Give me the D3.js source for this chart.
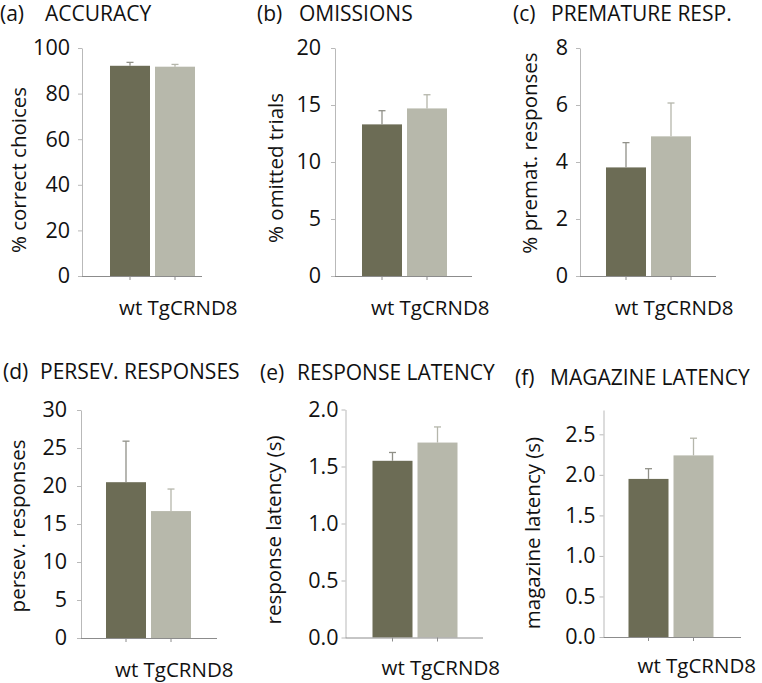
<!DOCTYPE html>
<html>
<head>
<meta charset="utf-8">
<script src="https://cdn.jsdelivr.net/npm/d3@7"></script>
<style>
  body { margin: 0; background: #fff; }
  text { font-family: "Open Sans", "Noto Sans", sans-serif; fill: #111; }
</style>
</head>
<body>
<script>
(function () {

    //chart values
    var groups = ["wt", "TgCRND8"];
    var panelTags = ["(a)", "(b)", "(c)", "(d)", "(e)", "(f)"];
    var panelTitles = ["ACCURACY", "OMISSIONS", "PREMATURE RESP.", "PERSEV. RESPONSES", "RESPONSE LATENCY", "MAGAZINE LATENCY"];
    var yLabels = ["% correct choices", "% omitted trials", "% premat. responses", "persev. responses", "response latency (s)", "magazine latency (s)"];
    var yMax = [100, 20, 8, 30, 2, 2.8];
    var yTicks = [
        [0, 20, 40, 60, 80, 100],
        [0, 5, 10, 15, 20],
        [0, 2, 4, 6, 8],
        [0, 5, 10, 15, 20, 25, 30],
        [0, 0.5, 1, 1.5, 2],
        [0, 0.5, 1, 1.5, 2, 2.5]
    ];
    var tickFormats = ["d", "d", "d", "d", ".1f", ".1f"];
    var wtMean = [92.2, 13.3, 3.81, 20.5, 1.55, 1.95];
    var tgMean = [91.8, 14.7, 4.90, 16.7, 1.71, 2.24];
    var wtErr = [1.5, 1.2, 0.87, 5.4, 0.073, 0.126];
    var tgErr = [1.0, 1.2, 1.17, 2.9, 0.137, 0.212];

    //layout of each panel (pixel positions)
    var layout = [
        {ax: 82,    top: 48,    bottom: 276,   right: 202, bar0: 28, tagX: 0,   titleX: 45,  titleY: 21,  xlabY: 315, ylabX: 19,  ylabY: 170, pad: 12},
        {ax: 335,   top: 48,    bottom: 276,   right: 472, bar0: 27, tagX: 257, titleX: 299, titleY: 21,  xlabY: 315, ylabX: 276, ylabY: 168, pad: 14},
        {ax: 580,   top: 48,    bottom: 276,   right: 716, bar0: 26, tagX: 513, titleX: 551, titleY: 21,  xlabY: 315, ylabX: 530, ylabY: 153, pad: 12},
        {ax: 81,    top: 410,   bottom: 638,   right: 217, bar0: 25, tagX: 3,   titleX: 40,  titleY: 379, xlabY: 677, ylabX: 18,  ylabY: 526, pad: 14},
        {ax: 345.5, top: 409.5, bottom: 637.5, right: 483, bar0: 27, tagX: 260, titleX: 297, titleY: 380, xlabY: 675, ylabX: 274, ylabY: 530, pad: 7},
        {ax: 603.5, top: 410,   bottom: 637,   right: 741, bar0: 25, tagX: 515, titleX: 550, titleY: 385, xlabY: 673, ylabX: 533, ylabY: 533, pad: 8}
    ];

    var barColors = ["#6c6c55", "#b7b8ab"];
    var errColors = ["#909088", "#b5b6ab"];

    window.onload = drawAll();

    function drawAll(){
        var svg = d3.select("body")
            .append("svg")
            .attr("width", 762)
            .attr("height", 683);

        for (var i = 0; i < layout.length; i++) {
            drawPanel(svg, i);
        }
    }

    function drawPanel(svg, i){
        var L = layout[i];
        var g = svg.append("g").attr("class", "panel");

        var y = d3.scaleLinear()
            .domain([0, yMax[i]])
            .range([L.bottom, L.top]);

        //two 40px bars with a 5px gap
        var x = d3.scaleBand()
            .domain(groups)
            .range([L.ax + L.bar0, L.ax + L.bar0 + 85])
            .paddingInner(5 / 45)
            .paddingOuter(0);

        var rows = groups.map(function (grp, k) {
            return {
                group: grp,
                mean: k === 0 ? wtMean[i] : tgMean[i],
                err: k === 0 ? wtErr[i] : tgErr[i],
                k: k
            };
        });

        //y axis
        var yAxis = d3.axisLeft(y)
            .tickValues(yTicks[i])
            .tickFormat(d3.format(tickFormats[i]))
            .tickSize(4)
            .tickSizeOuter(0)
            .tickPadding(L.pad - 4);

        var ya = g.append("g")
            .attr("transform", "translate(" + L.ax + ",0)")
            .call(yAxis);
        ya.select(".domain").attr("stroke", "#b9b9b9");
        ya.selectAll(".tick line").attr("stroke", "#b9b9b9");
        ya.selectAll(".tick text")
            .attr("font-size", 21.5)
            .attr("font-family", "Open Sans")
            .attr("fill", "#111");

        //bars
        g.selectAll(".bar")
            .data(rows)
            .enter()
            .append("rect")
            .attr("class", "bar")
            .attr("x", function (d) { return x(d.group); })
            .attr("width", x.bandwidth())
            .attr("y", function (d) { return y(d.mean); })
            .attr("height", function (d) { return y(0) - y(d.mean); })
            .attr("fill", function (d) { return barColors[d.k]; });

        //upper error whiskers
        var eb = g.selectAll(".err")
            .data(rows)
            .enter()
            .append("g")
            .attr("class", "err")
            .attr("stroke", function (d) { return errColors[d.k]; })
            .attr("stroke-width", 1.3);
        eb.append("line")
            .attr("x1", function (d) { return x(d.group) + x.bandwidth() / 2; })
            .attr("x2", function (d) { return x(d.group) + x.bandwidth() / 2; })
            .attr("y1", function (d) { return y(d.mean); })
            .attr("y2", function (d) { return y(d.mean + d.err); });
        eb.append("line")
            .attr("x1", function (d) { return x(d.group) + x.bandwidth() / 2 - 3.5; })
            .attr("x2", function (d) { return x(d.group) + x.bandwidth() / 2 + 3.5; })
            .attr("y1", function (d) { return y(d.mean + d.err); })
            .attr("y2", function (d) { return y(d.mean + d.err); });

        //baseline with ticks under the bars
        g.append("line")
            .attr("x1", L.ax)
            .attr("x2", L.right)
            .attr("y1", y(0) + 0.5)
            .attr("y2", y(0) + 0.5)
            .attr("stroke", "#8c8c8c");
        g.selectAll(".xtick")
            .data(groups)
            .enter()
            .append("line")
            .attr("class", "xtick")
            .attr("x1", function (d) { return x(d) + x.bandwidth() / 2; })
            .attr("x2", function (d) { return x(d) + x.bandwidth() / 2; })
            .attr("y1", y(0))
            .attr("y2", y(0) + 4)
            .attr("stroke", "#8c8c8c");

        //group labels
        g.append("text")
            .attr("x", x(groups[0]) + 9)
            .attr("y", L.xlabY)
            .attr("font-size", 20.5)
            .text(groups.join(" "));

        //y axis title
        g.append("text")
            .attr("transform", "translate(" + (L.ylabX + 7) + "," + L.ylabY + ") rotate(-90)")
            .attr("text-anchor", "middle")
            .attr("font-size", 20.5)
            .text(yLabels[i]);

        //panel title
        g.append("text")
            .attr("x", L.tagX)
            .attr("y", L.titleY)
            .attr("font-size", 21)
            .text(panelTags[i]);
        g.append("text")
            .attr("x", L.titleX)
            .attr("y", L.titleY)
            .attr("font-size", 21)
            .text(panelTitles[i]);
    }

})();
</script>
</body>
</html>
